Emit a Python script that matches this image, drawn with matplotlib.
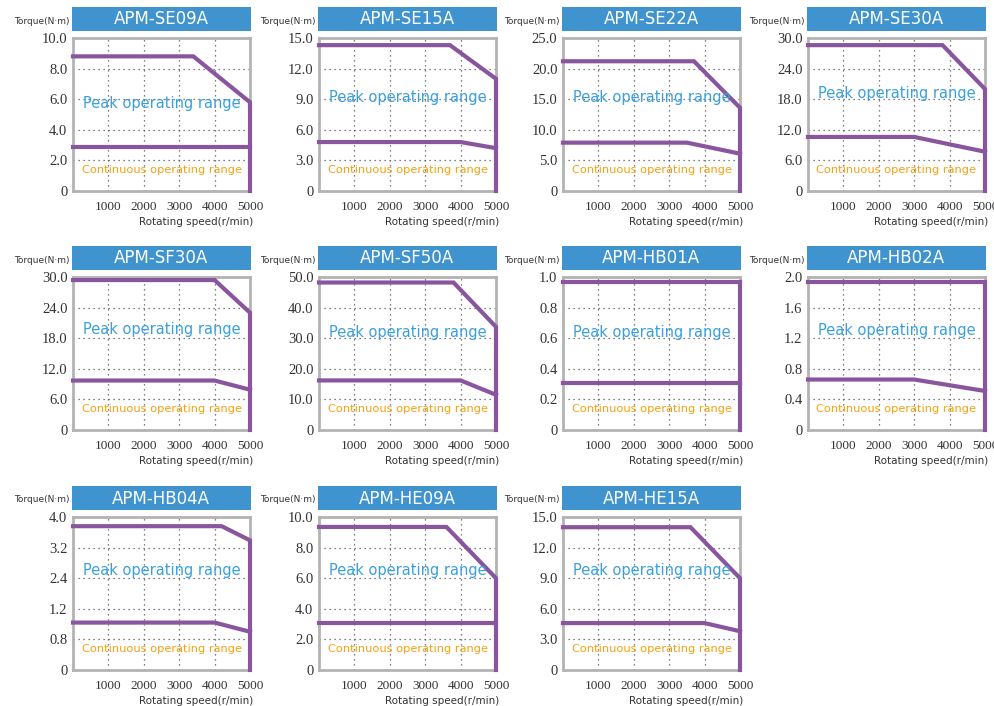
import matplotlib
matplotlib.use("Agg")
import matplotlib.pyplot as plt
from matplotlib.patches import Rectangle
import numpy as np

# ── data ─────────────────────────────────────────────────────────────────────
models = ["APM-SE09A", "APM-SE15A", "APM-SE22A", "APM-SE30A",
          "APM-SF30A", "APM-SF50A", "APM-HB01A", "APM-HB02A",
          "APM-HB04A", "APM-HE09A", "APM-HE15A"]

y_max = [10.0, 15.0, 25.0, 30.0, 30.0, 50.0, 1.0, 2.0, 4.0, 10.0, 15.0]

y_tick_labels = [
    ["0", "2.0", "4.0", "6.0", "8.0", "10.0"],
    ["0", "3.0", "6.0", "9.0", "12.0", "15.0"],
    ["0", "5.0", "10.0", "15.0", "20.0", "25.0"],
    ["0", "6.0", "12.0", "18.0", "24.0", "30.0"],
    ["0", "6.0", "12.0", "18.0", "24.0", "30.0"],
    ["0", "10.0", "20.0", "30.0", "40.0", "50.0"],
    ["0", "0.2", "0.4", "0.6", "0.8", "1.0"],
    ["0", "0.4", "0.8", "1.2", "1.6", "2.0"],
    ["0", "0.8", "1.2", "2.4", "3.2", "4.0"],
    ["0", "2.0", "4.0", "6.0", "8.0", "10.0"],
    ["0", "3.0", "6.0", "9.0", "12.0", "15.0"],
]

x_ticks = [1000, 2000, 3000, 4000, 5000]
x_tick_labels = ["1000", "2000", "3000", "4000", "5000"]

# peak torque curve (speed, torque), ends with the drop at 5000 r/min
peak_speed = [
    [0, 3400, 5000, 5000],
    [0, 3700, 5000, 5000],
    [0, 3700, 5000, 5000],
    [0, 3800, 5000, 5000],
    [0, 4000, 5000, 5000],
    [0, 3800, 5000, 5000],
    [0, 5000, 5000],
    [0, 5000, 5000],
    [0, 4200, 5000, 5000],
    [0, 3600, 5000, 5000],
    [0, 3600, 5000, 5000],
]
peak_torque = [
    [8.8, 8.8, 5.8, 0],
    [14.3, 14.3, 11.0, 0],
    [21.2, 21.2, 13.6, 0],
    [28.6, 28.6, 20.0, 0],
    [29.4, 29.4, 23.0, 0],
    [48.2, 48.2, 33.7, 0],
    [0.97, 0.97, 0],
    [1.94, 1.94, 0],
    [3.76, 3.76, 3.39, 0],
    [9.35, 9.35, 6.0, 0],
    [14.0, 14.0, 9.0, 0],
]

# continuous torque curve
cont_speed = [
    [0, 5000],
    [0, 4000, 5000],
    [0, 3500, 5000],
    [0, 3000, 5000],
    [0, 4000, 5000],
    [0, 4000, 5000],
    [0, 5000],
    [0, 3000, 5000],
    [0, 4000, 5000],
    [0, 5000],
    [0, 4000, 5000],
]
cont_torque = [
    [2.9, 2.9],
    [4.8, 4.8, 4.2],
    [7.9, 7.9, 6.1],
    [10.6, 10.6, 7.7],
    [9.7, 9.7, 7.9],
    [16.2, 16.2, 11.5],
    [0.31, 0.31],
    [0.66, 0.66, 0.51],
    [1.24, 1.24, 1.0],
    [3.1, 3.1],
    [4.6, 4.6, 3.8],
]

# vertical place of the "Peak operating range" label (axes fraction)
peak_text_y = [0.57, 0.61, 0.61, 0.64, 0.66, 0.64, 0.64, 0.65, 0.65, 0.65, 0.65]

# ── layout (pixels) ──────────────────────────────────────────────────────────
W, H = 994, 706
col_left = [73, 319, 563, 808]
row_top = [38, 277, 517]
ax_w, ax_h = 177, 153

purple = "#8a559f"
blue_box = "#3f93cf"
peak_col = "#3aa0dc"
cont_col = "#f5a20f"
frame_col = "#b3b3b3"

fig = plt.figure(figsize=(W / 100, H / 100), dpi=100)
fig.patch.set_facecolor("white")

for i, name in enumerate(models):
    r, c = divmod(i, 4)
    left, top = col_left[c], row_top[r]
    ax = fig.add_axes([left / W, 1 - (top + ax_h) / H, ax_w / W, ax_h / H])

    ax.set_xlim(0, 5000)
    ax.set_ylim(0, y_max[i])

    # dotted grid at interior ticks
    y_ticks = np.linspace(0, y_max[i], 6)
    for xv in x_ticks[:-1]:
        ax.axvline(xv, color="#555555", ls=(0, (1, 3)), lw=0.9, zorder=1)
    for yv in y_ticks[1:-1]:
        ax.axhline(yv, color="#555555", ls=(0, (1, 3)), lw=0.9, zorder=1)

    ax.set_xticks(x_ticks)
    ax.set_xticklabels(x_tick_labels, family="Liberation Serif", fontsize=9.5)
    ax.set_yticks(y_ticks)
    ax.set_yticklabels(y_tick_labels[i], family="Liberation Serif", fontsize=10.5)
    ax.tick_params(length=0, colors="#333333")
    ax.tick_params(axis="x", pad=7)
    ax.tick_params(axis="y", pad=4)

    for s in ax.spines.values():
        s.set_color(frame_col)
        s.set_linewidth(2)

    # torque curves
    ax.plot(peak_speed[i], peak_torque[i], color=purple, lw=3,
            solid_joinstyle="miter", clip_on=False, zorder=3)
    ax.plot(cont_speed[i], cont_torque[i], color=purple, lw=3,
            clip_on=False, zorder=3)

    ax.text(0.5, peak_text_y[i], "Peak operating range", transform=ax.transAxes,
            ha="center", va="center", color=peak_col, fontsize=10.5, zorder=4)
    ax.text(0.5, 0.135, "Continuous operating range", transform=ax.transAxes,
            ha="center", va="center", color=cont_col, fontsize=8.2, zorder=4)

    # blue title box
    box_top = top - 31
    fig.add_artist(Rectangle(((left - 1) / W, 1 - (box_top + 24) / H), 179 / W, 24 / H,
                             transform=fig.transFigure, facecolor=blue_box,
                             edgecolor="none"))
    fig.text((left + 88) / W, 1 - (box_top + 12.5) / H, name, color="white",
             fontsize=12, ha="center", va="center")
    fig.text((left - 3) / W, 1 - (box_top + 14) / H, "Torque(N·m)", color="#333333",
             fontsize=6.5, ha="right", va="center")
    fig.text((left + 180) / W, 1 - (top + ax_h + 31) / H, "Rotating speed(r/min)",
             color="#333333", fontsize=7.5, ha="right", va="center")

fig.savefig("out.png", dpi=100)
